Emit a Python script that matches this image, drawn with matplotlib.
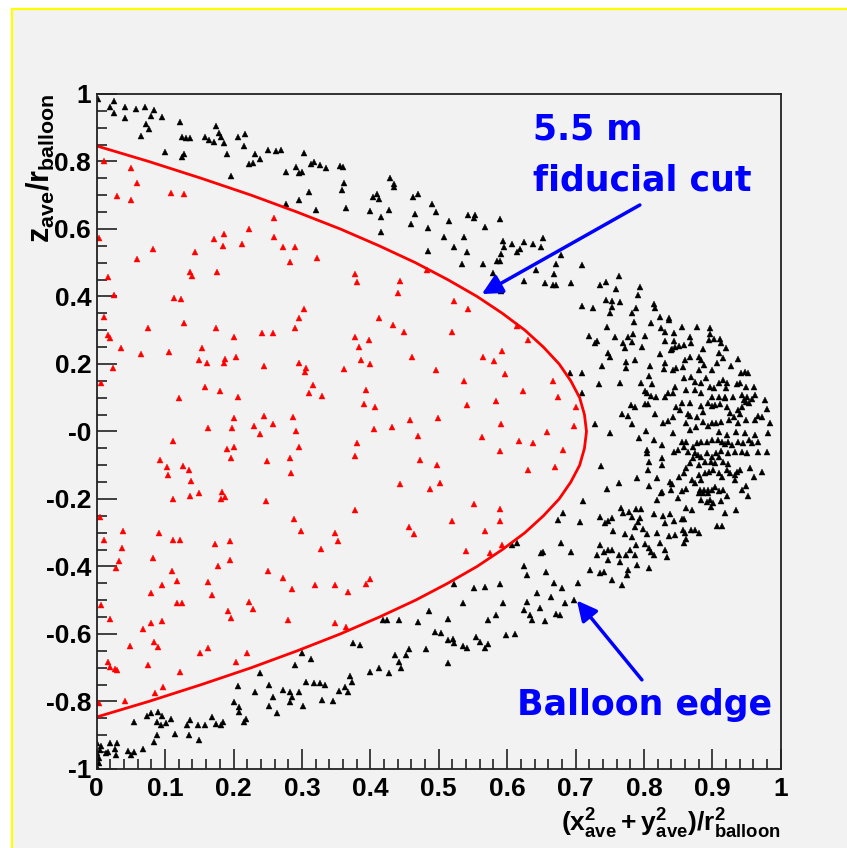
import matplotlib
matplotlib.use("Agg")
import matplotlib.pyplot as plt
from matplotlib.patches import Rectangle
from matplotlib.ticker import MultipleLocator, FixedLocator

# events inside the 5.5 m fiducial volume (red)
inside_pts = [
    (0.010, 0.800), (0.004, 0.572), (0.029, 0.698), (0.050, 0.780), (0.050, 0.686), (0.059, 0.736),
    (0.059, 0.510), (0.016, 0.457), (0.025, 0.403), (0.010, 0.338), (0.082, 0.542), (0.108, 0.708),
    (0.127, 0.704), (0.144, 0.531), (0.137, 0.471), (0.139, 0.460), (0.113, 0.394), (0.123, 0.391),
    (0.172, 0.569), (0.176, 0.471), (0.185, 0.550), (0.186, 0.585), (0.212, 0.555), (0.222, 0.601),
    (0.259, 0.631), (0.259, 0.577), (0.272, 0.547), (0.282, 0.501), (0.290, 0.547), (0.322, 0.515),
    (0.303, 0.362), (0.296, 0.335),
    (0.378, 0.466), (0.380, 0.444), (0.444, 0.446), (0.441, 0.411), (0.483, 0.477), (0.523, 0.387),
    (0.543, 0.362), (0.413, 0.335),
    (0.075, 0.306), (0.128, 0.322), (0.174, 0.306), (0.200, 0.281), (0.241, 0.293), (0.258, 0.293),
    (0.290, 0.306), (0.017, 0.286), (0.020, 0.276), (0.036, 0.246), (0.065, 0.230), (0.106, 0.234),
    (0.154, 0.246), (0.150, 0.212), (0.161, 0.204), (0.186, 0.204), (0.188, 0.214), (0.204, 0.222),
    (0.244, 0.195), (0.296, 0.204), (0.305, 0.177), (0.306, 0.187), (0.024, 0.187), (0.006, 0.145),
    (0.159, 0.132), (0.180, 0.119), (0.207, 0.101), (0.121, 0.098), (0.316, 0.137), (0.311, 0.115),
    (0.329, 0.106), (0.201, 0.039), (0.244, 0.047), (0.287, 0.044), (0.257, 0.022), (0.230, 0.017),
    (0.163, 0.009), (0.198, 0.009), (0.239, -0.007), (0.292, 0.002), (0.112, -0.028), (0.190, -0.053),
    (0.201, -0.045), (0.296, -0.045), (0.197, -0.080), (0.283, -0.080), (0.249, -0.087), (0.284, -0.122),
    (0.093, -0.084), (0.103, -0.104), (0.126, -0.101), (0.135, -0.114), (0.104, -0.130), (0.138, -0.146),
    (0.150, -0.181), (0.136, -0.190), (0.111, -0.199), (0.183, -0.178), (0.182, -0.199), (0.188, -0.195),
    (0.248, -0.207), (0.005, -0.253), (0.288, -0.258), (0.298, -0.295), (0.038, -0.295), (0.091, -0.300),
    (0.433, 0.314), (0.449, 0.296), (0.520, 0.296), (0.378, 0.281), (0.398, 0.271), (0.384, 0.249),
    (0.386, 0.212), (0.399, 0.200), (0.361, 0.186), (0.461, 0.222), (0.496, 0.182), (0.564, 0.222),
    (0.581, 0.209), (0.593, 0.238), (0.614, 0.311), (0.630, 0.271), (0.597, 0.170), (0.537, 0.150),
    (0.667, 0.150), (0.623, 0.119), (0.674, 0.103), (0.584, 0.090), (0.541, 0.077), (0.393, 0.123),
    (0.391, 0.080), (0.407, 0.073), (0.458, 0.034), (0.499, 0.039), (0.405, 0.006), (0.431, 0.013),
    (0.470, -0.012), (0.591, 0.021), (0.563, -0.016), (0.658, -0.003), (0.618, -0.029), (0.638, -0.033),
    (0.380, -0.033), (0.377, -0.072), (0.472, -0.084), (0.497, -0.100), (0.590, -0.059), (0.630, -0.114),
    (0.670, -0.104), (0.444, -0.157), (0.487, -0.170), (0.502, -0.154), (0.378, -0.233), (0.551, -0.216),
    (0.590, -0.229), (0.590, -0.266), (0.520, -0.266), (0.568, -0.296), (0.457, -0.283), (0.464, -0.304),
    (0.348, -0.300), (0.701, 0.073), (0.697, 0.016), (0.682, -0.055),
    (0.352, -0.326), (0.348, -0.455), (0.368, -0.477), (0.393, -0.452), (0.399, -0.438), (0.348, -0.568),
    (0.364, -0.578), (0.540, -0.354), (0.575, -0.359), (0.593, -0.336),
    (0.010, -0.322), (0.037, -0.346), (0.032, -0.384), (0.028, -0.405), (0.006, -0.514), (0.019, -0.557),
    (0.016, -0.684), (0.019, -0.699), (0.027, -0.704), (0.030, -0.707), (0.003, -0.805), (0.042, -0.800),
    (0.049, -0.636), (0.068, -0.586), (0.075, -0.692), (0.079, -0.480), (0.080, -0.568), (0.082, -0.376),
    (0.084, -0.623), (0.089, -0.640), (0.085, -0.776), (0.096, -0.455), (0.096, -0.561), (0.097, -0.758),
    (0.110, -0.413), (0.111, -0.322), (0.122, -0.322), (0.117, -0.443), (0.117, -0.509), (0.124, -0.509),
    (0.122, -0.712), (0.151, -0.657), (0.162, -0.641), (0.162, -0.447), (0.168, -0.484), (0.173, -0.333),
    (0.177, -0.400), (0.192, -0.531), (0.196, -0.552), (0.195, -0.326), (0.195, -0.381), (0.203, -0.682),
    (0.220, -0.657), (0.222, -0.504), (0.229, -0.527), (0.251, -0.413), (0.273, -0.435), (0.285, -0.468),
    (0.279, -0.560), (0.319, -0.455), (0.328, -0.349),
]

# events outside the cut, near the balloon (black)
outside_pts = [
    (0.002, 0.985), (0.019, 0.960), (0.025, 0.979), (0.025, 0.945), (0.041, 0.960), (0.042, 0.928),
    (0.057, 0.956), (0.065, 0.874), (0.070, 0.960), (0.072, 0.911), (0.077, 0.897), (0.080, 0.935),
    (0.084, 0.953), (0.095, 0.931), (0.100, 0.829), (0.122, 0.918), (0.124, 0.872), (0.131, 0.869),
    (0.136, 0.869), (0.124, 0.814), (0.128, 0.821), (0.158, 0.872), (0.164, 0.864), (0.171, 0.859),
    (0.174, 0.905), (0.179, 0.885), (0.181, 0.873), (0.186, 0.856), (0.190, 0.821), (0.197, 0.758),
    (0.206, 0.872), (0.217, 0.880), (0.215, 0.847), (0.223, 0.791), (0.229, 0.794), (0.231, 0.821),
    (0.239, 0.808), (0.251, 0.834), (0.262, 0.831), (0.270, 0.834), (0.277, 0.770), (0.292, 0.785),
    (0.296, 0.765), (0.300, 0.770), (0.295, 0.686), (0.276, 0.673), (0.303, 0.826), (0.311, 0.710),
    (0.313, 0.793), (0.318, 0.797), (0.320, 0.656), (0.326, 0.790), (0.335, 0.780),
    (0.356, 0.788), (0.360, 0.785), (0.361, 0.737), (0.359, 0.716), (0.364, 0.661), (0.399, 0.653),
    (0.404, 0.696), (0.410, 0.704), (0.412, 0.689), (0.416, 0.636), (0.416, 0.590), (0.427, 0.656),
    (0.429, 0.750), (0.435, 0.732), (0.435, 0.724), (0.463, 0.694), (0.470, 0.704), (0.465, 0.644),
    (0.460, 0.615), (0.484, 0.602), (0.484, 0.536), (0.490, 0.674), (0.496, 0.649), (0.507, 0.577),
    (0.515, 0.624), (0.522, 0.548), (0.537, 0.577), (0.541, 0.531), (0.534, 0.496), (0.543, 0.640),
    (0.551, 0.632), (0.553, 0.641), (0.567, 0.607), (0.564, 0.496), (0.589, 0.629), (0.594, 0.565),
    (0.595, 0.546), (0.591, 0.526), (0.590, 0.506), (0.585, 0.505), (0.580, 0.469), (0.591, 0.416),
    (0.607, 0.556), (0.614, 0.531), (0.619, 0.540), (0.624, 0.560), (0.638, 0.556), (0.650, 0.546),
    (0.653, 0.572), (0.642, 0.477), (0.625, 0.446), (0.655, 0.441),
    (0.679, 0.522), (0.672, 0.496), (0.668, 0.468), (0.671, 0.434), (0.667, 0.434), (0.694, 0.441),
    (0.710, 0.493), (0.736, 0.434), (0.744, 0.444), (0.764, 0.461), (0.759, 0.421), (0.794, 0.429),
    (0.792, 0.404), (0.745, 0.390), (0.753, 0.388), (0.765, 0.385), (0.753, 0.370), (0.750, 0.352),
    (0.710, 0.372), (0.725, 0.365), (0.782, 0.352), (0.788, 0.365), (0.814, 0.378), (0.816, 0.365),
    (0.823, 0.340), (0.837, 0.335),
    (0.811, 0.322), (0.746, 0.310), (0.786, 0.325), (0.837, 0.330), (0.720, 0.283), (0.731, 0.269),
    (0.728, 0.261), (0.758, 0.279), (0.769, 0.263), (0.777, 0.279), (0.784, 0.289), (0.782, 0.266),
    (0.801, 0.283), (0.825, 0.306), (0.831, 0.296), (0.844, 0.293), (0.856, 0.310), (0.877, 0.310),
    (0.896, 0.306), (0.897, 0.289), (0.903, 0.274), (0.911, 0.275), (0.912, 0.263), (0.868, 0.279),
    (0.869, 0.261), (0.858, 0.255), (0.851, 0.253), (0.846, 0.249), (0.841, 0.243), (0.844, 0.267),
    (0.831, 0.267),
    (0.748, 0.233), (0.750, 0.222), (0.773, 0.246), (0.797, 0.249), (0.787, 0.212), (0.774, 0.207),
    (0.774, 0.189), (0.738, 0.194), (0.809, 0.194), (0.823, 0.229), (0.831, 0.204), (0.830, 0.186),
    (0.839, 0.241), (0.842, 0.182), (0.847, 0.187), (0.860, 0.212), (0.857, 0.190), (0.868, 0.222),
    (0.881, 0.222), (0.883, 0.212), (0.886, 0.243), (0.895, 0.271), (0.909, 0.233), (0.916, 0.217),
    (0.920, 0.246), (0.907, 0.202), (0.927, 0.194), (0.937, 0.214), (0.942, 0.172), (0.948, 0.177),
    (0.952, 0.172), (0.881, 0.182), (0.888, 0.197), (0.899, 0.182), (0.709, 0.174), (0.692, 0.174),
    (0.735, 0.141), (0.765, 0.145), (0.796, 0.145), (0.807, 0.164), (0.812, 0.141), (0.858, 0.157),
    (0.869, 0.162), (0.874, 0.148), (0.883, 0.143), (0.890, 0.157), (0.896, 0.133), (0.903, 0.128),
    (0.910, 0.145), (0.916, 0.151), (0.921, 0.145), (0.920, 0.128), (0.936, 0.141), (0.940, 0.145),
    (0.949, 0.133), (0.961, 0.133), (0.962, 0.108), (0.943, 0.108), (0.946, 0.093), (0.951, 0.103),
    (0.930, 0.101), (0.919, 0.101), (0.909, 0.101), (0.899, 0.103), (0.884, 0.113), (0.875, 0.123),
    (0.862, 0.123), (0.846, 0.133), (0.843, 0.115), (0.835, 0.113), (0.831, 0.103), (0.817, 0.103),
    (0.802, 0.121), (0.805, 0.115), (0.811, 0.105), (0.806, 0.081), (0.801, 0.081), (0.710, 0.115),
    (0.781, 0.077), (0.787, 0.073), (0.768, 0.052), (0.776, 0.046), (0.782, 0.022), (0.816, 0.052),
    (0.728, 0.022), (0.751, -0.004), (0.828, 0.026), (0.835, 0.030), (0.843, 0.044), (0.847, 0.073),
    (0.853, 0.065), (0.856, 0.085), (0.868, 0.085), (0.865, 0.052), (0.868, 0.046), (0.862, 0.024),
    (0.867, 0.004), (0.876, 0.012), (0.884, 0.075), (0.893, 0.085), (0.900, 0.075), (0.904, 0.077),
    (0.911, 0.081), (0.919, 0.098), (0.921, 0.073), (0.926, 0.056), (0.931, 0.044), (0.937, 0.064),
    (0.940, 0.052), (0.943, 0.073), (0.949, 0.088), (0.954, 0.083), (0.958, 0.095), (0.967, 0.046),
    (0.972, 0.044), (0.980, 0.066), (0.977, 0.093), (0.984, 0.026), (0.963, 0.034), (0.949, 0.034),
    (0.938, 0.024), (0.924, 0.034), (0.913, 0.029), (0.905, 0.024), (0.899, 0.024), (0.886, 0.059),
    (0.887, 0.029), (0.877, 0.044), (0.894, 0.016), (0.909, -0.001), (0.921, -0.011), (0.934, -0.001),
    (0.948, -0.006), (0.962, -0.011), (0.982, -0.006), (0.843, -0.004), (0.803, 0.002), (0.793, -0.020),
    (0.815, -0.025), (0.827, -0.040), (0.805, -0.055), (0.804, -0.065), (0.808, -0.090), (0.806, -0.114),
    (0.827, -0.080), (0.844, -0.060), (0.826, -0.099), (0.850, -0.055), (0.855, -0.030), (0.862, -0.030),
    (0.859, -0.045), (0.865, -0.060), (0.871, -0.045), (0.877, -0.035), (0.875, -0.065), (0.883, -0.030),
    (0.892, -0.030), (0.899, -0.025), (0.908, -0.025), (0.914, -0.030), (0.919, -0.037), (0.923, -0.030),
    (0.928, -0.040), (0.937, -0.030), (0.945, -0.033), (0.953, -0.025), (0.958, -0.035), (0.967, -0.030),
    (0.980, -0.060), (0.967, -0.060), (0.950, -0.065), (0.943, -0.060), (0.933, -0.060), (0.923, -0.065),
    (0.913, -0.057), (0.906, -0.063), (0.899, -0.075), (0.892, -0.065), (0.884, -0.075), (0.879, -0.070),
    (0.872, -0.080), (0.867, -0.094), (0.862, -0.109), (0.880, -0.099), (0.889, -0.090), (0.898, -0.090),
    (0.904, -0.094), (0.909, -0.075), (0.916, -0.090), (0.923, -0.096), (0.936, -0.119), (0.940, -0.114),
    (0.933, -0.129), (0.955, -0.109), (0.973, -0.121), (0.961, -0.134),
    (0.737, -0.101), (0.746, -0.169), (0.763, -0.152), (0.790, -0.139), (0.807, -0.162), (0.819, -0.139),
    (0.838, -0.149), (0.841, -0.156), (0.840, -0.173), (0.826, -0.178), (0.855, -0.176), (0.851, -0.134),
    (0.859, -0.124), (0.870, -0.144), (0.875, -0.152), (0.880, -0.129), (0.884, -0.144), (0.889, -0.124),
    (0.895, -0.119), (0.901, -0.114), (0.909, -0.124), (0.914, -0.134), (0.921, -0.114), (0.926, -0.124),
    (0.933, -0.144), (0.943, -0.173), (0.949, -0.162), (0.952, -0.191), (0.922, -0.191), (0.916, -0.173),
    (0.909, -0.175), (0.904, -0.166), (0.899, -0.173), (0.894, -0.173), (0.888, -0.173), (0.882, -0.172),
    (0.880, -0.183), (0.887, -0.183), (0.893, -0.183), (0.896, -0.203), (0.901, -0.213), (0.898, -0.223),
    (0.892, -0.208), (0.884, -0.203), (0.862, -0.169), (0.850, -0.198), (0.819, -0.203), (0.825, -0.183),
    (0.913, -0.205),
    (0.711, -0.205), (0.767, -0.228), (0.770, -0.243), (0.778, -0.238), (0.789, -0.231), (0.796, -0.231),
    (0.782, -0.253), (0.794, -0.257), (0.792, -0.268), (0.787, -0.282), (0.799, -0.290), (0.772, -0.304),
    (0.783, -0.314), (0.755, -0.294), (0.748, -0.264), (0.736, -0.254), (0.743, -0.272), (0.753, -0.257),
    (0.815, -0.245), (0.828, -0.250), (0.838, -0.245), (0.831, -0.272), (0.844, -0.264), (0.855, -0.260),
    (0.859, -0.260), (0.862, -0.228), (0.870, -0.233), (0.857, -0.292), (0.860, -0.302), (0.869, -0.292),
    (0.874, -0.292), (0.880, -0.300), (0.862, -0.320), (0.819, -0.302), (0.836, -0.310), (0.845, -0.307),
    (0.805, -0.304), (0.935, -0.233), (0.919, -0.243), (0.907, -0.279), (0.914, -0.279), (0.682, -0.241),
    (0.675, -0.262), (0.707, -0.267),
    (0.678, -0.329), (0.736, -0.336), (0.747, -0.351), (0.741, -0.356), (0.732, -0.366), (0.754, -0.351),
    (0.764, -0.366), (0.765, -0.386), (0.747, -0.381), (0.774, -0.366), (0.780, -0.351), (0.789, -0.336),
    (0.787, -0.366), (0.790, -0.396), (0.802, -0.333), (0.807, -0.346), (0.811, -0.356), (0.814, -0.366),
    (0.823, -0.331), (0.831, -0.351), (0.833, -0.371), (0.859, -0.331), (0.694, -0.356), (0.649, -0.361),
    (0.653, -0.356), (0.721, -0.410), (0.736, -0.420), (0.741, -0.415), (0.753, -0.440), (0.768, -0.455),
    (0.775, -0.425), (0.777, -0.410), (0.807, -0.405), (0.657, -0.415), (0.668, -0.448), (0.680, -0.465),
    (0.704, -0.448), (0.697, -0.499), (0.685, -0.507), (0.664, -0.491), (0.643, -0.480), (0.629, -0.425),
    (0.624, -0.400), (0.629, -0.504), (0.624, -0.529), (0.633, -0.544), (0.636, -0.559), (0.648, -0.524),
    (0.655, -0.563), (0.672, -0.541), (0.677, -0.544),
    (0.345, -0.800), (0.354, -0.768), (0.363, -0.758), (0.368, -0.771), (0.370, -0.726), (0.373, -0.741),
    (0.374, -0.628), (0.385, -0.633), (0.400, -0.712), (0.412, -0.700), (0.418, -0.560), (0.424, -0.560),
    (0.428, -0.717), (0.436, -0.662), (0.442, -0.559), (0.442, -0.684), (0.445, -0.700), (0.452, -0.662),
    (0.456, -0.645), (0.470, -0.564), (0.481, -0.645), (0.486, -0.531), (0.494, -0.595), (0.503, -0.598),
    (0.513, -0.557), (0.513, -0.618), (0.514, -0.687), (0.521, -0.616), (0.523, -0.628), (0.522, -0.452),
    (0.535, -0.509), (0.536, -0.636), (0.542, -0.641), (0.552, -0.465), (0.555, -0.608), (0.561, -0.623),
    (0.567, -0.460), (0.568, -0.643), (0.572, -0.560), (0.572, -0.630), (0.584, -0.544), (0.590, -0.452),
    (0.594, -0.509), (0.598, -0.603), (0.607, -0.336), (0.614, -0.329), (0.611, -0.600),
    (0.000, -0.922), (0.001, -0.954), (0.003, -0.968), (0.005, -0.944), (0.006, -0.932), (0.003, -0.983),
    (0.000, -0.993), (0.014, -0.954), (0.016, -0.949), (0.019, -0.924), (0.027, -0.942), (0.028, -0.959),
    (0.030, -0.924), (0.045, -0.946), (0.050, -0.959), (0.055, -0.949), (0.067, -0.941), (0.055, -0.860),
    (0.074, -0.843), (0.079, -0.835), (0.084, -0.919), (0.088, -0.899), (0.088, -0.860), (0.089, -0.830),
    (0.095, -0.843), (0.094, -0.870), (0.101, -0.865), (0.108, -0.852), (0.115, -0.897), (0.132, -0.870),
    (0.135, -0.899), (0.136, -0.855), (0.148, -0.870), (0.149, -0.914), (0.159, -0.870), (0.169, -0.845),
    (0.175, -0.868), (0.181, -0.870), (0.184, -0.860), (0.201, -0.803), (0.206, -0.754), (0.208, -0.815),
    (0.208, -0.830), (0.215, -0.860), (0.218, -0.853), (0.231, -0.771), (0.239, -0.717), (0.252, -0.751),
    (0.252, -0.813), (0.257, -0.788), (0.263, -0.835), (0.272, -0.766), (0.283, -0.771), (0.283, -0.803),
    (0.285, -0.786), (0.290, -0.692), (0.295, -0.771), (0.301, -0.813), (0.300, -0.655), (0.313, -0.674),
    (0.306, -0.741), (0.317, -0.746), (0.327, -0.746), (0.334, -0.751), (0.330, -0.796),
]

# fiducial cut line: z/r_balloon vs (x^2+y^2)/r_balloon^2
cut_z = [-0.846, -0.80, -0.75, -0.70, -0.65, -0.60, -0.55, -0.50, -0.45, -0.40, -0.35, -0.30,
         -0.25, -0.20, -0.15, -0.10, -0.05, 0.0, 0.05, 0.10, 0.15, 0.20, 0.25, 0.30, 0.35,
         0.40, 0.45, 0.50, 0.55, 0.60, 0.65, 0.70, 0.75, 0.80, 0.846]
cut_rho = [0.0, 0.076, 0.153, 0.226, 0.293, 0.356, 0.413, 0.466, 0.513, 0.556, 0.593, 0.626,
           0.653, 0.676, 0.693, 0.706, 0.713, 0.716, 0.713, 0.706, 0.693, 0.676, 0.653, 0.626, 0.593,
           0.556, 0.513, 0.466, 0.413, 0.356, 0.293, 0.226, 0.153, 0.076, 0.0]

x_ticks = [0, 0.1, 0.2, 0.3, 0.4, 0.5, 0.6, 0.7, 0.8, 0.9, 1.0]
x_labels = ["0", "0.1", "0.2", "0.3", "0.4", "0.5", "0.6", "0.7", "0.8", "0.9", "1"]
y_ticks = [-1.0, -0.8, -0.6, -0.4, -0.2, 0.0, 0.2, 0.4, 0.6, 0.8, 1.0]
y_labels = ["-1", "-0.8", "-0.6", "-0.4", "-0.2", "-0", "0.2", "0.4", "0.6", "0.8", "1"]

plt.rcParams["font.family"] = ["Liberation Sans", "DejaVu Sans"]
plt.rcParams["font.weight"] = "bold"
plt.rcParams["mathtext.fontset"] = "custom"
plt.rcParams["mathtext.rm"] = "Liberation Sans:bold"
plt.rcParams["mathtext.it"] = "Liberation Sans:bold"
plt.rcParams["mathtext.bf"] = "Liberation Sans:bold"

fig = plt.figure(figsize=(8.47, 8.48), dpi=100)
fig.patch.set_facecolor("white")
# slide background with the yellow frame
fig.add_artist(Rectangle((12 / 847, -0.1), 1.2, 1.0894, transform=fig.transFigure,
                         facecolor="#f2f2f2", edgecolor="#ffff00", lw=1.6, zorder=0))

ax = fig.add_axes([0.1142, 0.0932, 0.8076, 0.7960])
ax.set_facecolor("#f2f2f2")
ax.set_xlim(0, 1)
ax.set_ylim(-1, 1)

ax.plot([p[0] for p in outside_pts], [p[1] for p in outside_pts], ls="none",
        marker="^", ms=4.4, mew=0.3, color="black")
ax.plot([p[0] for p in inside_pts], [p[1] for p in inside_pts], ls="none",
        marker="^", ms=4.4, mew=0.3, color="red")
ax.plot(cut_rho, cut_z, color="red", lw=2)

ax.xaxis.set_major_locator(FixedLocator(x_ticks))
ax.set_xticklabels(x_labels)
ax.xaxis.set_minor_locator(MultipleLocator(0.02))
ax.yaxis.set_major_locator(FixedLocator(y_ticks))
ax.set_yticklabels(y_labels)
ax.yaxis.set_minor_locator(MultipleLocator(0.05))
ax.tick_params(which="both", direction="in", top=False, right=False, color="#222222", width=1.2)
ax.tick_params(which="major", length=14.5, labelsize=19)
ax.tick_params(which="minor", length=7.5)
ax.tick_params(axis="x", pad=6)
ax.tick_params(axis="y", pad=4)
for s in ax.spines.values():
    s.set_linewidth(1.3)
    s.set_color("#222222")

ax.text(-0.082, 1.0, r"$\mathrm{z_{ave}/r_{balloon}}$", transform=ax.transAxes,
        rotation=90, ha="center", va="top", fontsize=22)
ax.text(1.0, -0.093, r"$\mathrm{(x^2_{ave} + y^2_{ave})/r^2_{balloon}}$", transform=ax.transAxes,
        ha="right", va="baseline", fontsize=19)

ann_font = dict(color="blue", fontsize=25, fontweight="bold", family="DejaVu Sans")
ax.text(0.638, 0.864, "5.5 m", va="baseline", **ann_font)
ax.text(0.638, 0.713, "fiducial cut", va="baseline", **ann_font)
ax.text(0.614, -0.840, "Balloon edge", va="baseline", **ann_font)

arrow = dict(arrowstyle="-|>,head_length=0.6,head_width=0.3", color="blue", lw=2.5,
             mutation_scale=20, shrinkA=0, shrinkB=0)
ax.annotate("", xy=(0.563, 0.407), xytext=(0.794, 0.671), arrowprops=arrow)
ax.annotate("", xy=(0.702, -0.501), xytext=(0.797, -0.736), arrowprops=arrow)

fig.savefig("out.png", dpi=100)
